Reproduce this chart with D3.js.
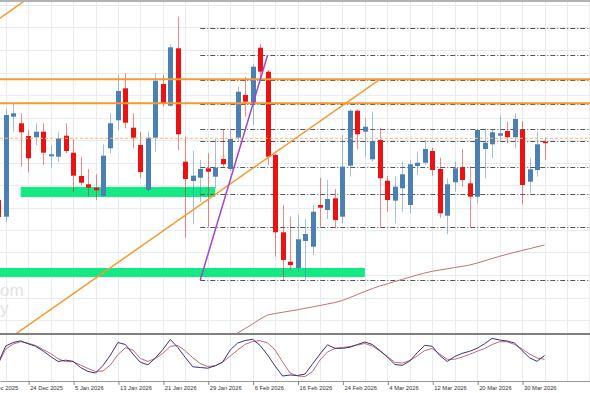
<!DOCTYPE html>
<html>
<head>
<meta charset="utf-8">
<script src="https://cdn.jsdelivr.net/npm/d3@7"></script>
<style>
  html, body { margin: 0; padding: 0; background: #fff; }
  svg { display: block; }
</style>
</head>
<body>
<div id="wrapper"></div>
<script>
// trading days shown on the axis (16 Dec is just off the left edge)
const dates = [
  "2025-12-16","2025-12-17","2025-12-18","2025-12-19","2025-12-22","2025-12-23","2025-12-24","2025-12-26","2025-12-29","2025-12-30","2025-12-31",
  "2026-01-02","2026-01-05","2026-01-06","2026-01-07","2026-01-08","2026-01-09","2026-01-12","2026-01-13","2026-01-14","2026-01-15","2026-01-16",
  "2026-01-19","2026-01-20","2026-01-21","2026-01-22","2026-01-23","2026-01-26","2026-01-27","2026-01-28","2026-01-29","2026-01-30",
  "2026-02-02","2026-02-03","2026-02-04","2026-02-05","2026-02-06","2026-02-09","2026-02-10","2026-02-11","2026-02-12","2026-02-13",
  "2026-02-16","2026-02-17","2026-02-18","2026-02-19","2026-02-20","2026-02-23","2026-02-24","2026-02-25","2026-02-26","2026-02-27",
  "2026-03-02","2026-03-03","2026-03-04","2026-03-05","2026-03-06","2026-03-09","2026-03-10","2026-03-11","2026-03-12","2026-03-13",
  "2026-03-16","2026-03-17","2026-03-18","2026-03-19","2026-03-20","2026-03-23","2026-03-24","2026-03-25","2026-03-26","2026-03-27",
  "2026-03-30","2026-03-31","2026-04-01","2026-04-02"
]
const firstCandle = "2025-12-18"

const open = [200,183.3,283.3,276.7,264,262.7,268.3,243.7,243.3,264.3,
  247.3,224,215.7,212.3,204,251.7,279.7,311.7,272.3,255,
  210,262.3,316,294.3,351.7,238.3,219,222.3,231.7,223.3,
  241,231,262.3,305,296.7,352.3,328.3,245,167.7,138.3,
  132,159,153.3,195,190,201.7,183.3,234.3,289.3,268.3,
  240.7,260,219.3,199.3,211.7,195,234,237.3,249,231,
  184.3,217.7,232.3,216.7,203.3,251,255.7,264.3,269,262.7,
  270,218.3,230,258.3]
const high = [205,291,296.7,286.7,270,276.7,276.7,255,268.3,276.7,
  261,243.3,231,225.7,255.7,286.7,325,326.7,286.7,268,
  268.3,326.7,325,355.7,383.3,263.3,249,240,246.7,261.7,
  270,270,313.3,323.3,335.7,355.7,330,245.7,195,183.3,
  185,181,195,222.3,220,211,265,290.7,290.7,282.3,
  288.3,272.3,224,223.3,238.3,240,248.3,260,252.3,242.3,
  221.7,238.3,250.7,233.3,270.7,271.7,270,284.3,278.3,286.7,
  279,242.3,268.3,262.3]
const low = [179,178.3,268.3,233.3,227.7,255,235,232.3,238.3,246.7,
  207.7,215,203.3,200,203.3,246.7,270,271.7,251.7,222,
  208.3,248.3,293.3,293.3,250,162.3,175.7,198.3,173.3,211.7,
  233.3,229,258.3,283.3,275,320,235,143.3,120,130,
  128,120,145,173.3,181,171.7,176.7,223.3,250.7,243.3,
  238.3,173.3,188.3,176.7,188.3,186.7,225,235,224.3,182.3,
  165.7,208.3,213.3,173.3,196.7,221.7,241.7,258.3,256.7,251.7,
  195.7,206.7,223.3,240]
const close = [183,285,286.7,267.7,241.7,268.3,247.3,245.7,261.7,249,
  224.3,217.3,212.3,209.7,244.3,276.7,309,277.3,262.3,228,
  262.3,319.3,296.7,352.7,265.7,221,224.3,231,228.3,232.3,
  235.7,261,308.3,298.3,333.3,328.3,243.3,167.7,140,135,
  160.7,166,188.3,192.3,201,180,233.3,289.3,265.7,273.3,
  259,221.7,200,213.3,225.7,235.7,237.3,251,230,186.7,
  215.7,231.7,220,203.3,270,257.3,267.7,266.7,262.7,281,
  215,230.7,255.7,257]

// long moving average, only the part that enters the price panel
const maFrom = "2026-02-03"
const movingAvg = [62,67,71.5,76,81,85,86.5,87.7,89,90.2,
  91.7,93,94.5,96,97.5,99.5,102.5,105.5,108.5,111.5,
  114,116.2,118.5,120.7,122.8,125,127,128.7,130,131.2,
  132.5,133.7,135,137,139.2,141.5,143.7,145.7,147.7,149.5,
  151.3,153.2,155]

// stochastic oscillator (same days as the candles)
const stochK = [36,70,77,80.4,74.4,69.4,60,49,39,41.6,
  39.4,27,19,16,31,52,77,73,54,37.4,
  32.4,46,63,83,67,47,28.4,27,25.6,30.4,
  38,62,76,81,83.4,71,52,30,10,12,
  11,14,34,54,72.4,65.4,65.4,67.4,73,78,
  73,61,48,33,31.4,40,56.6,71.4,69.4,51,
  39,49,55.4,59.4,65.4,74.6,85.4,82,80,76,
  61,46.4,39.4,51]
const stochD = [34,64,74,78.4,75.6,71,63,55,44.4,38.6,
  38.6,32,25,19,20,32,53,66.4,62,45,
  39.4,45,55.4,69.4,71,60.4,46.4,35,29,30.6,
  37.6,50,62,73.4,79,80.6,76.4,62,38,16,
  10,9,19,42,58,65,67,69,72,75,
  70,60,49,37.4,36,41,50,61,65,54,
  43.4,43.4,48,53.4,59.4,65,73,78.6,78.6,73,
  64,54,46,43.4]

// drawn objects
const resistance = [320.7, 296.7]
const lastPrice = 261.7
const fibFrom = "2026-01-28"
const fibLevels = [371.7, 344.5, 320.5, 296.2, 270.7, 259, 232.7, 205.7, 172.7, 120]
const zones = [
  {from: "2025-12-23", to: "2026-01-30", lo: 203, hi: 213},
  {from: "2025-12-16", to: "2026-02-27", lo: 123, hi: 132},
]
const trendLines = [
  {from: "2025-12-18", p1: 53.8, to: "2026-03-03", p2: 320.7, color: "#f59a2e", w: 1.5},
  {from: "2025-12-18", p1: 380.7, to: "2025-12-29", p2: 412.1, color: "#f59a2e", w: 1.5},
  {from: "2026-01-28", p1: 120, to: "2026-02-10", p2: 345, color: "#a046cc", w: 1.5},
]
const gridPrices = [80, 102.5, 125, 147.5, 170, 192.5, 215, 237.5, 260, 282.5, 305, 327.5, 350, 372.5, 395]
const watermark = ["om", "y"]

const width = 590
const height = 393
const mainTop = 2, mainBottom = 333
const subTop = 335, subBottom = 381

const parseDate = d3.timeParse("%Y-%m-%d")
const formatDate = d3.timeFormat("%-d %b %Y")
const idx = d => dates.indexOf(d)
const offset = idx(firstCandle)

const xScale = d3.scaleLinear().domain([0, dates.length - 1]).range([-16.75, 544.5])
const yScale = d3.scaleLinear().domain([67, 400]).range([333, 0])
const sScale = d3.scaleLinear().domain([0, 100]).range([381, 331])

const candles = open.map((o, k) => ({
  i: k + offset, open: o, high: high[k], low: low[k], close: close[k]
}))

const svg = d3.select("#wrapper").append("svg")
  .attr("width", width)
  .attr("height", height)
  .style("font-family", "'Liberation Sans', Arial, sans-serif")

svg.append("rect").attr("width", width).attr("height", height).attr("fill", "#fff")

const defs = svg.append("defs")
defs.append("clipPath").attr("id", "mainClip").append("rect")
  .attr("x", 0).attr("y", mainTop).attr("width", width).attr("height", mainBottom - mainTop)
defs.append("clipPath").attr("id", "subClip").append("rect")
  .attr("x", 0).attr("y", subTop).attr("width", width).attr("height", subBottom - subTop)

const main = svg.append("g").attr("clip-path", "url(#mainClip)")
const sub = svg.append("g").attr("clip-path", "url(#subClip)")

// grid
const gridIdx = d3.range(0, dates.length + 7, 3)
;[main, sub].forEach(g => {
  g.selectAll(".vgrid").data(gridIdx).enter().append("line")
    .attr("x1", d => Math.round(xScale(d)) + 0.5).attr("x2", d => Math.round(xScale(d)) + 0.5)
    .attr("y1", mainTop).attr("y2", subBottom)
    .attr("stroke", "#e9ecef").attr("stroke-width", 1)
})
main.selectAll(".hgrid").data(gridPrices).enter().append("line")
  .attr("x1", 0).attr("x2", width)
  .attr("y1", d => Math.round(yScale(d)) + 0.5).attr("y2", d => Math.round(yScale(d)) + 0.5)
  .attr("stroke", "#e9ecef")

// watermark
main.selectAll(".wm").data(watermark).enter().append("text")
  .attr("x", 0).attr("y", (d, k) => 296 + k * 18)
  .attr("font-size", 17).attr("fill", "#e2e2e2").text(d => d)

// zones
main.selectAll(".zone").data(zones).enter().append("rect")
  .attr("x", d => xScale(idx(d.from)))
  .attr("width", d => xScale(idx(d.to)) - xScale(idx(d.from)))
  .attr("y", d => yScale(d.hi))
  .attr("height", d => yScale(d.lo) - yScale(d.hi))
  .attr("fill", "#12ea84")

// fib style levels
main.selectAll(".fib").data(fibLevels).enter().append("line")
  .attr("x1", xScale(idx(fibFrom))).attr("x2", width)
  .attr("y1", d => Math.round(yScale(d)) + 0.5).attr("y2", d => Math.round(yScale(d)) + 0.5)
  .attr("stroke", "#555").attr("stroke-dasharray", "5,2,1,2")

// moving average
const maStart = idx(maFrom)
main.append("path")
  .attr("d", d3.line().x((d, k) => xScale(maStart + k)).y(d => yScale(d))(movingAvg))
  .attr("fill", "none").attr("stroke", "#c27272").attr("stroke-width", 1)

// candles
const upColor = "#4a80b4", downColor = "#ee1111"
const cx = d => Math.round(xScale(d.i))
main.selectAll(".wick").data(candles).enter().append("line")
  .attr("x1", d => cx(d) + 0.5).attr("x2", d => cx(d) + 0.5)
  .attr("y1", d => yScale(d.high)).attr("y2", d => yScale(d.low))
  .attr("stroke", d => d.close >= d.open ? upColor : downColor)
  .attr("stroke-opacity", 0.5)
main.selectAll(".body").data(candles).enter().append("rect")
  .attr("x", d => cx(d) - 2).attr("width", 5)
  .attr("y", d => yScale(Math.max(d.open, d.close)))
  .attr("height", d => Math.max(1.5, Math.abs(yScale(d.open) - yScale(d.close))))
  .attr("fill", d => d.close >= d.open ? upColor : downColor)

// horizontal resistance lines and last price
main.selectAll(".res").data(resistance).enter().append("line")
  .attr("x1", 0).attr("x2", width)
  .attr("y1", d => yScale(d)).attr("y2", d => yScale(d))
  .attr("stroke", "#f59a2e").attr("stroke-width", 2)
main.append("line")
  .attr("x1", 0).attr("x2", width)
  .attr("y1", yScale(lastPrice)).attr("y2", yScale(lastPrice))
  .attr("stroke", "#f3b877").attr("stroke-dasharray", "3,2")

// trend lines
main.selectAll(".trend").data(trendLines).enter().append("line")
  .attr("x1", d => xScale(idx(d.from))).attr("y1", d => yScale(d.p1))
  .attr("x2", d => xScale(idx(d.to))).attr("y2", d => yScale(d.p2))
  .attr("stroke", d => d.color).attr("stroke-width", d => d.w)

// stochastic
const sLine = d3.line().x((d, k) => xScale(k + offset)).y(d => sScale(d))
sub.append("path").attr("d", sLine(stochD))
  .attr("fill", "none").attr("stroke", "#c46a6a").attr("stroke-width", 1)
sub.append("path").attr("d", sLine(stochK))
  .attr("fill", "none").attr("stroke", "#34347e").attr("stroke-width", 1)

// frame lines
svg.append("line").attr("x1", 0).attr("x2", width).attr("y1", 1).attr("y2", 1)
  .attr("stroke", "#999").attr("stroke-width", 1.5)
svg.append("line").attr("x1", 0).attr("x2", width).attr("y1", 334).attr("y2", 334)
  .attr("stroke", "#808080").attr("stroke-width", 2)

// date axis
const labelIdx = d3.range(0, dates.length, 6)
const xAxisGenerator = d3.axisBottom(xScale)
  .tickValues(labelIdx)
  .tickSize(4)
  .tickFormat(i => formatDate(parseDate(dates[i])))
const xAxis = svg.append("g")
  .attr("transform", `translate(0.5, ${subBottom})`)
  .call(xAxisGenerator)
xAxis.select(".domain").attr("stroke", "#999").attr("d", `M0,0.5H${width}`)
xAxis.selectAll(".tick line").attr("stroke", "#888")
xAxis.selectAll(".tick text")
  .attr("text-anchor", "start")
  .attr("x", 1).attr("y", 5)
  .attr("font-size", 5.8)
  .attr("fill", "#333")
  .attr("font-family", "'Liberation Sans', Arial, sans-serif")
</script>
</body>
</html>
